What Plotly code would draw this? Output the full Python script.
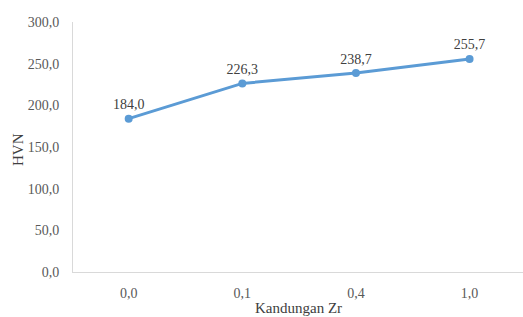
import plotly.graph_objects as go

categories = ["0,0", "0,1", "0,4", "1,0"]
hvn = [184.0, 226.3, 238.7, 255.7]
labels = ["184,0", "226,3", "238,7", "255,7"]
y_ticks = [0, 50, 100, 150, 200, 250, 300]
y_tick_labels = ["0,0", "50,0", "100,0", "150,0", "200,0", "250,0", "300,0"]

font = "serif"

fig = go.Figure()
fig.add_trace(go.Scatter(
    x=categories, y=hvn,
    mode="lines+markers+text",
    line=dict(color="#5B9BD5", width=3),
    marker=dict(color="#5B9BD5", size=8),
    text=labels,
    textposition="top center",
    textfont=dict(family=font, size=14, color="#404040"),
    cliponaxis=False,
    hoverinfo="skip",
))

fig.update_layout(
    width=523, height=317,
    margin=dict(l=73, r=0, t=22, b=45, autoexpand=False),
    paper_bgcolor="white", plot_bgcolor="white",
    showlegend=False,
    font=dict(family=font, size=14, color="#595959"),
    xaxis=dict(
        type="category",
        range=[-0.49, 3.47],
        automargin=False,
        showline=True, linecolor="#D9D9D9", linewidth=1,
        showgrid=False, ticks="", ticklabelstandoff=8,
        tickfont=dict(family=font, size=14, color="#595959"),
        zeroline=False,
    ),
    yaxis=dict(
        range=[0, 300],
        automargin=False,
        tickvals=y_ticks, ticktext=y_tick_labels,
        showline=True, linecolor="#D9D9D9", linewidth=1,
        showgrid=False, ticks="", zeroline=False, ticklabelstandoff=10,
        tickfont=dict(family=font, size=14, color="#595959"),
    ),
    annotations=[
        dict(text="Kandungan Zr", xref="paper", yref="paper",
             x=(298 - 73) / 450, y=-(308 - 272) / 250,
             xanchor="center", yanchor="middle", showarrow=False,
             font=dict(family=font, size=15, color="#404040")),
        dict(text="HVN", xref="paper", yref="paper",
             x=-(73 - 18) / 450, y=(272 - 150) / 250, textangle=-90,
             xanchor="center", yanchor="middle", showarrow=False,
             font=dict(family=font, size=15, color="#404040")),
    ],
)

fig.write_html(
    "out.html",
    config={"displayModeBar": False},
    post_script="document.body.style.margin='0';document.body.style.padding='0';",
)
